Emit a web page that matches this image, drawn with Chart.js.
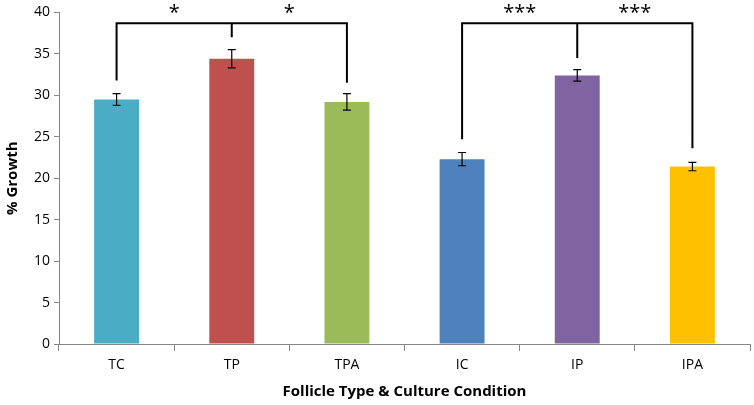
<!DOCTYPE html>
<html>
<head>
<meta charset="utf-8">
<script src="https://cdn.jsdelivr.net/npm/chart.js@4"></script>
<style>
  html, body { margin: 0; padding: 0; background: #fff; }
  #wrap { width: 754px; height: 405px; }
</style>
</head>
<body>
<div id="wrap"><canvas id="chart" width="754" height="405"></canvas></div>
<script>
const categories = ['TC', 'TP', 'TPA', 'IC', 'IP', 'IPA'];
const growth = [29.5, 34.4, 29.2, 22.3, 32.4, 21.4];
const errors = [0.7, 1.1, 1.0, 0.8, 0.7, 0.5];
const barColors = ['#4BACC6', '#C0504D', '#9BBB59', '#4F81BD', '#8064A2', '#FFC000'];
const yTicks = [0, 5, 10, 15, 20, 25, 30, 35, 40];

// brackets: [from, mid, to] category index, leg bottoms (values), top value, label
const brackets = [
  { idx: [0, 1, 2], legs: [31.8, 37.0, 31.5], top: 38.7, label: '*' },
  { idx: [3, 4, 5], legs: [24.7, 34.5, 23.6], top: 38.7, label: '***' },
];

const FONT = '"Open Sans", "Liberation Sans", sans-serif';

const errorBars = {
  id: 'errorBars',
  afterDatasetsDraw(c) {
    const { ctx, scales: { x, y } } = c;
    ctx.save();
    ctx.strokeStyle = '#000';
    ctx.lineWidth = 1.2;
    growth.forEach((v, i) => {
      const px = x.getPixelForValue(i);
      const hi = y.getPixelForValue(v + errors[i]);
      const lo = y.getPixelForValue(v - errors[i]);
      ctx.beginPath();
      ctx.moveTo(px, hi); ctx.lineTo(px, lo);
      ctx.moveTo(px - 4, hi); ctx.lineTo(px + 4, hi);
      ctx.moveTo(px - 4, lo); ctx.lineTo(px + 4, lo);
      ctx.stroke();
    });
    ctx.restore();
  }
};

const bracketPlugin = {
  id: 'brackets',
  afterDraw(c) {
    const { ctx, scales: { x, y } } = c;
    ctx.save();
    ctx.strokeStyle = '#000';
    ctx.lineWidth = 2;
    ctx.fillStyle = '#000';
    ctx.font = '20px ' + FONT;
    ctx.textAlign = 'center';
    ctx.textBaseline = 'middle';
    brackets.forEach(b => {
      const xs = b.idx.map(i => x.getPixelForValue(i));
      const top = y.getPixelForValue(b.top);
      ctx.beginPath();
      ctx.moveTo(xs[0], y.getPixelForValue(b.legs[0]));
      ctx.lineTo(xs[0], top);
      ctx.lineTo(xs[2], top);
      ctx.lineTo(xs[2], y.getPixelForValue(b.legs[2]));
      ctx.moveTo(xs[1], top);
      ctx.lineTo(xs[1], y.getPixelForValue(b.legs[1]));
      ctx.stroke();
      ctx.fillText(b.label, (xs[0] + xs[1]) / 2, top - 10);
      ctx.fillText(b.label, (xs[1] + xs[2]) / 2, top - 10);
    });
    ctx.restore();
  }
};

new Chart(document.getElementById('chart'), {
  type: 'bar',
  data: {
    labels: categories,
    datasets: [{
      data: growth,
      backgroundColor: barColors,
      borderWidth: 0,
      barPercentage: 0.39,
      categoryPercentage: 1,
    }]
  },
  options: {
    responsive: false,
    animation: false,
    layout: { padding: { top: 7, right: 4, left: 0, bottom: 0 } },
    plugins: { legend: { display: false }, tooltip: { enabled: false } },
    scales: {
      x: {
        grid: { offset: true, drawOnChartArea: false, color: '#868686', tickLength: 7 },
        border: { color: '#868686' },
        ticks: { color: '#000', font: { family: FONT, size: 14 }, padding: 6 },
        title: { display: true, text: 'Follicle Type & Culture Condition', color: '#000', font: { family: FONT, size: 15, weight: 'bold' }, padding: { top: 8 } },
        afterFit(s) { s.height = 61; }
      },
      y: {
        min: 0, max: 40,
        afterBuildTicks(s) { s.ticks = yTicks.map(v => ({ value: v })); },
        grid: { drawOnChartArea: false, color: '#868686', tickLength: 5 },
        border: { color: '#868686' },
        ticks: { color: '#000', font: { family: FONT, size: 14 }, padding: 4 },
        title: { display: true, text: '% Growth', color: '#000', font: { family: FONT, size: 15, weight: 'bold' }, padding: { bottom: 4 } },
        afterFit(s) { s.width = 59; }
      }
    }
  },
  plugins: [errorBars, bracketPlugin]
});
</script>
</body>
</html>
